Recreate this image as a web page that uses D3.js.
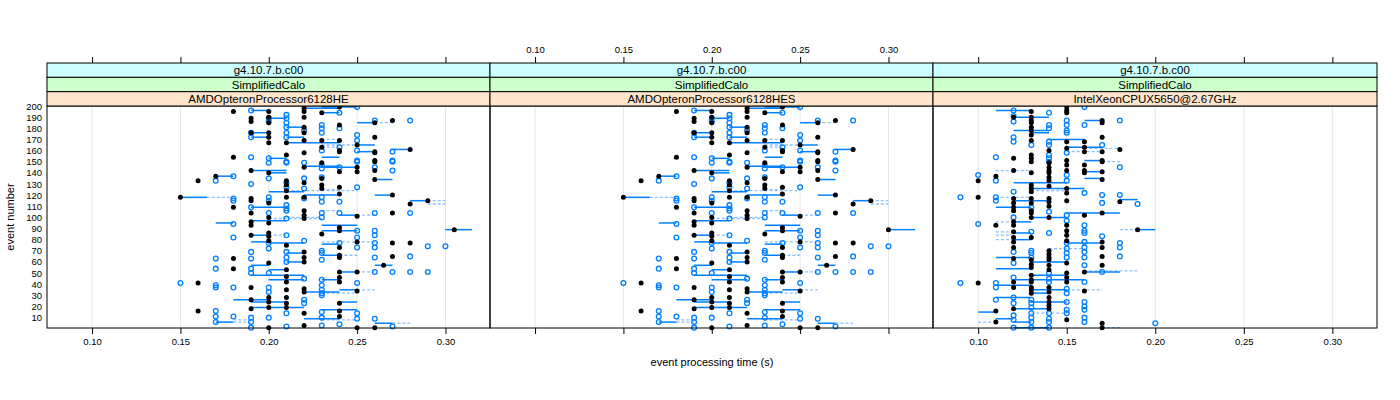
<!DOCTYPE html>
<html><head><meta charset="utf-8">
<script src="https://cdn.jsdelivr.net/npm/d3@7"></script>
<style>body{margin:0;background:#fff}svg{display:block}text{font-family:"Liberation Sans",Arial,Helvetica,sans-serif}</style>
</head><body><svg id="c" width="1400" height="400"></svg>
<script>
const panelNames = ["AMDOpteronProcessor6128HE","AMDOpteronProcessor6128HES","IntelXeonCPUX5650@2.67GHz"];
const stripVersion = "g4.10.7.b.c00";
const stripGeometry = "SimplifiedCalo";
const xTicks = [0.10,0.15,0.20,0.25,0.30];
const xTickLabels = ["0.10","0.15","0.20","0.25","0.30"];
const yTicks = [10,20,30,40,50,60,70,80,90,100,110,120,130,140,150,160,170,180,190,200];
const xTitle = "event processing time (s)";
const yTitle = "event number";

// [time, [event numbers]]
const p1Black = [
 [0.15,[118]],[0.16,[133,41,16]],[0.17,[137]],[0.18,[195,154,109,63,54]],
 [0.19,[189,186,176,142,117,115,104,96,93,84,37,26,18]],
 [0.20,[195,190,185,176,172,167,140,113,100,95,86,83,79,59,28,24,19,1]],
 [0.21,[167,156,133,129,124,118,75,53,47,42,35,28,23,19]],
 [0.22,[198,195,190,181,176,169,158,145,131,118,106,102,99,69,64,60,36,33,14,3]],
 [0.23,[194,169,163,149,135,129,126,85]],
 [0.24,[199,183,169,160,159,141,127,121,91,88,73,66,64,51,46,42,23,16,11]],
 [0.25,[165,145,141,101,78,51,34,1]],
 [0.26,[185,172,159,158,151,150,142,134,1]],[0.265,[57]],
 [0.27,[187,120,104,77,65]],[0.28,[161,112,77]],[0.29,[115]],[0.305,[89]]
];
const p1Open = [
 [0.15,[41]],[0.17,[133,63,54,39,37,16,11,6]],[0.18,[137,117,115,94,82,37,11]],
 [0.19,[196,176,172,154,130,109,69,63,54,50,10,6,1]],
 [0.20,[189,186,153,149,135,118,115,104,77,72,50,37,33,10]],
 [0.21,[192,189,185,181,176,172,150,149,131,127,111,108,106,99,84,69,64,60,14,2]],
 [0.22,[178,149,135,126,117,79,45,26,23]],
 [0.23,[183,180,176,160,147,144,136,118,114,104,100,70,68,62,44,39,35,32,30,15,10,3]],
 [0.24,[194,180,163,145,114,104,77,4]],
 [0.25,[199,174,169,160,151,150,127,88,82,73,41,14,9]],
 [0.26,[187,145,104,88,84,77,73,64,51,9]],
 [0.27,[159,151,150,142,51,2]],[0.28,[187,104,65,51]],[0.29,[74,51]],[0.30,[74]]
];
// [event, from time, to time]
const p1Solid = [
 [118,0.15,0.165],[137,0.17,0.18],[95,0.17,0.18],[6,0.17,0.18],[26,0.18,0.20],
 [196,0.19,0.20],[176,0.19,0.20],[172,0.19,0.20],[142,0.19,0.21],[109,0.19,0.21],[97,0.19,0.21],[84,0.19,0.20],[78,0.19,0.20],[57,0.19,0.20],[48,0.19,0.22],[24,0.19,0.21],[19,0.19,0.22],
 [153,0.20,0.21],[140,0.20,0.21],[123,0.20,0.22],[77,0.20,0.22],[53,0.20,0.21],[44,0.20,0.22],[189,0.20,0.21],
 [172,0.21,0.22],[167,0.21,0.24],[68,0.21,0.22],[60,0.21,0.22],[181,0.21,0.22],
 [198,0.22,0.24],[146,0.22,0.24],[120,0.22,0.24],[33,0.22,0.24],[9,0.22,0.24],
 [199,0.23,0.25],[194,0.23,0.24],[154,0.23,0.24],[145,0.23,0.25],[93,0.23,0.25],[88,0.23,0.25],[76,0.23,0.24],[66,0.23,0.24],[44,0.23,0.24],[17,0.23,0.25],
 [102,0.24,0.25],[51,0.24,0.25],[35,0.24,0.25],[24,0.24,0.25],
 [185,0.25,0.26],[165,0.25,0.26],[159,0.25,0.26],
 [134,0.26,0.27],[120,0.26,0.27],[57,0.26,0.27],[5,0.26,0.27],
 [161,0.27,0.28],[115,0.28,0.29],[89,0.30,0.315]
];
const p1Dashed = [
 [118,0.165,0.18],[6,0.18,0.19],[8,0.18,0.19],[99,0.20,0.23],[84,0.20,0.21],[124,0.21,0.25],[100,0.21,0.23],
 [165,0.23,0.25],[163,0.23,0.24],[32,0.23,0.25],[8,0.23,0.25],[170,0.23,0.24],[125,0.23,0.24],[106,0.23,0.24],[78,0.23,0.26],
 [66,0.24,0.25],[102,0.25,0.26],[51,0.25,0.26],[35,0.25,0.26],[185,0.26,0.27],[5,0.27,0.28],[115,0.29,0.30],[112,0.29,0.30]
];

const p2Black = [
 [0.15,[118]],[0.16,[133,41,16]],[0.17,[137]],[0.18,[195,154,109,63,54]],
 [0.19,[189,186,176,142,117,115,104,96,93,84,37,26,18]],
 [0.20,[195,190,185,176,172,167,140,113,100,95,86,83,79,59,28,24,19,1]],
 [0.21,[167,156,133,129,124,118,75,53,47,42,35,28,23,19]],
 [0.22,[198,195,190,181,176,169,158,145,131,118,106,102,99,69,64,60,36,33,14,3]],
 [0.23,[194,169,163,149,135,129,126,85]],
 [0.24,[199,183,169,160,159,141,127,121,91,88,73,66,64,51,46,42,23,16,11]],
 [0.25,[165,145,141,101,78,51,34,1]],
 [0.26,[185,172,159,158,151,150,142,134,1]],[0.265,[57]],
 [0.27,[187,120,104,77,65]],[0.28,[161,112,77]],[0.29,[115]],[0.30,[89]]
];
const p2Open = p1Open, p2Solid = p1Solid, p2Dashed = p1Dashed;

const p3Black = [
 [0.10,[133,118,41]],[0.11,[137,93,16,6]],
 [0.12,[190,153,142,117,113,109,106,96,93,87,82,78,73,63,42,37,18]],
 [0.13,[195,190,187,185,181,178,174,169,156,153,150,140,129,126,123,117,113,106,104,100,82,62,58,55,48,44,42,37,35,32]],
 [0.14,[160,149,145,142,140,136,133,128,117,114,110,100,70,67,64,62,57,53,37,33,28,24,21,18]],
 [0.15,[199,196,194,168,162,151,147,142,126,122,115,93,88,84,79,59,50,46,42,8]],
 [0.16,[168,163,159,147,142,140,102,51,34]],
 [0.17,[187,185,172,159,151,150,141,134,104,78,73,65,57,5,1]],
 [0.18,[161,114]],[0.19,[89]]
];
const p3Open = [
 [0.09,[118,41]],[0.10,[138,94]],[0.11,[154,133,118,115,41,37,26]],
 [0.12,[196,191,186,172,168,123,100,69,59,46,28,23,12,8,1]],
 [0.13,[165,109,87,70,68,64,26,23,19,14,10,6,1]],
 [0.14,[194,183,180,168,165,156,153,150,105,86,50,45,42,14,9,6,1]],
 [0.15,[187,183,178,176,158,138,133,102,97,77,72,68,64,36,32,24,17,14]],
 [0.16,[199,183,122,93,88,86,78,73,69,64,57,42,24,20,17,10,6]],
 [0.17,[165,120,113,83,51]],[0.18,[187,145,120,77,73,65]],[0.19,[112]],[0.20,[5]]
];
const p3Solid = [
 [196,0.11,0.13],[190,0.12,0.14],[187,0.16,0.17],[178,0.12,0.14],[176,0.13,0.14],[170,0.14,0.16],[163,0.15,0.17],[151,0.16,0.17],[141,0.16,0.17],[135,0.16,0.17],[131,0.12,0.15],[126,0.13,0.16],[116,0.18,0.19],[115,0.12,0.14],[109,0.11,0.13],[104,0.15,0.18],[100,0.13,0.15],[96,0.12,0.13],[89,0.19,0.20],[86,0.12,0.13],[80,0.12,0.13],[77,0.15,0.17],[64,0.11,0.13],[60,0.13,0.15],[54,0.11,0.13],[51,0.16,0.18],[48,0.13,0.15],[44,0.12,0.16],[39,0.11,0.13],[35,0.13,0.15],[32,0.13,0.14],[28,0.11,0.13],[24,0.13,0.15],[18,0.12,0.14],[15,0.10,0.11],[9,0.11,0.12],[6,0.12,0.13],[1,0.12,0.14]
];
const p3Dashed = [
 [162,0.16,0.18],[159,0.15,0.17],[150,0.17,0.18],[142,0.11,0.13],[124,0.13,0.15],[118,0.11,0.13],[96,0.11,0.12],[89,0.18,0.19],[87,0.11,0.12],[84,0.11,0.12],[80,0.11,0.12],[72,0.14,0.16],[52,0.16,0.19],[35,0.15,0.17],[14,0.13,0.15],[6,0.10,0.11],[1,0.17,0.18]
];

const panelData = [
 {black:p1Black, open:p1Open, solid:p1Solid, dashed:p1Dashed},
 {black:p2Black, open:p2Open, solid:p2Solid, dashed:p2Dashed},
 {black:p3Black, open:p3Open, solid:p3Solid, dashed:p3Dashed}
];

const svg = d3.select("#c");
const panelX = [[47,490],[490,933],[933,1377]];
const plotTop = 106, plotBottom = 328, stripH = 14.33;
const stripTop = plotTop - 3*stripH;
const y = d3.scaleLinear().domain([0.7,200]).range([plotBottom, plotTop]);
const blue = "#0080ff", lightBlue = "#8cc0ff";
const fmt = v => xTickLabels[xTicks.indexOf(v)];

panelNames.forEach((name,i)=>{
  const [x0,x1] = panelX[i];
  const x = d3.scaleLinear().domain([0.0745,0.3252]).range([x0,x1]);
  const g = svg.append("g");
  const d = panelData[i];
  g.selectAll(".grid").data(xTicks).join("line")
    .attr("x1",v=>x(v)).attr("x2",v=>x(v)).attr("y1",plotTop).attr("y2",plotBottom)
    .attr("stroke","#e6e6e6").attr("stroke-width",1);
  const clip = g.append("g");
  clip.selectAll(".ds").data(d.dashed).join("line")
    .attr("x1",s=>x(s[1])).attr("x2",s=>x(s[2])).attr("y1",s=>y(s[0])).attr("y2",s=>y(s[0]))
    .attr("stroke",lightBlue).attr("stroke-width",1.3).attr("stroke-dasharray","3,2");
  clip.selectAll(".ss").data(d.solid).join("line")
    .attr("x1",s=>x(s[1])).attr("x2",s=>x(s[2])).attr("y1",s=>y(s[0])).attr("y2",s=>y(s[0]))
    .attr("stroke",blue).attr("stroke-width",1.5);
  const openPts = d.open.flatMap(([t,ev])=>ev.map(e=>[t,e]));
  const blackPts = d.black.flatMap(([t,ev])=>ev.map(e=>[t,e]));
  clip.selectAll(".op").data(openPts).join("circle")
    .attr("cx",p=>x(p[0])).attr("cy",p=>y(p[1])).attr("r",2.4)
    .attr("fill","none").attr("stroke",blue).attr("stroke-width",1.3);
  clip.selectAll(".bp").data(blackPts).join("circle")
    .attr("cx",p=>x(p[0])).attr("cy",p=>y(p[1])).attr("r",2.5).attr("fill","#000");
  g.append("rect").attr("x",x0).attr("y",plotTop).attr("width",x1-x0).attr("height",plotBottom-plotTop)
    .attr("fill","none").attr("stroke","#000").attr("stroke-width",1);
  const strips = [[stripVersion,"#ccffff"],[stripGeometry,"#ccffcc"],[name,"#ffe5cc"]];
  strips.forEach(([txt,col],k)=>{
    const sy = stripTop + k*stripH;
    g.append("rect").attr("x",x0).attr("y",sy).attr("width",x1-x0).attr("height",stripH)
      .attr("fill",col).attr("stroke","#000").attr("stroke-width",1);
    g.append("text").attr("x",(x0+x1)/2).attr("y",sy+stripH/2+4).attr("text-anchor","middle")
      .attr("font-size",11.5).text(txt);
  });
  const showBottom = i!==1, showTop = i===1;
  const bAx = d3.axisBottom(x).tickValues(xTicks).tickSize(6).tickPadding(4).tickFormat(showBottom?fmt:()=>"");
  const ba = svg.append("g").attr("transform",`translate(0,${plotBottom})`).call(bAx);
  const tAx = d3.axisTop(x).tickValues(xTicks).tickSize(6).tickPadding(4).tickFormat(showTop?fmt:()=>"");
  const ta = svg.append("g").attr("transform",`translate(0,${stripTop})`).call(tAx);
  [ba,ta].forEach(a=>{a.select(".domain").remove();a.selectAll("text").attr("font-size",9.5).attr("font-family","Liberation Sans, Arial, sans-serif");});
});

const ya = svg.append("g").attr("transform",`translate(${panelX[0][0]},0)`)
  .call(d3.axisLeft(y).tickValues(yTicks).tickSize(0).tickPadding(5));
ya.select(".domain").remove();
ya.selectAll("text").attr("font-size",9.5).attr("font-family","Liberation Sans, Arial, sans-serif");

svg.append("text").attr("x",(panelX[0][0]+panelX[2][1])/2).attr("y",366).attr("text-anchor","middle")
  .attr("font-size",11).text(xTitle);
svg.append("text").attr("transform",`translate(14,${(plotTop+plotBottom)/2}) rotate(-90)`)
  .attr("text-anchor","middle").attr("font-size",11).text(yTitle);
</script></body></html>
